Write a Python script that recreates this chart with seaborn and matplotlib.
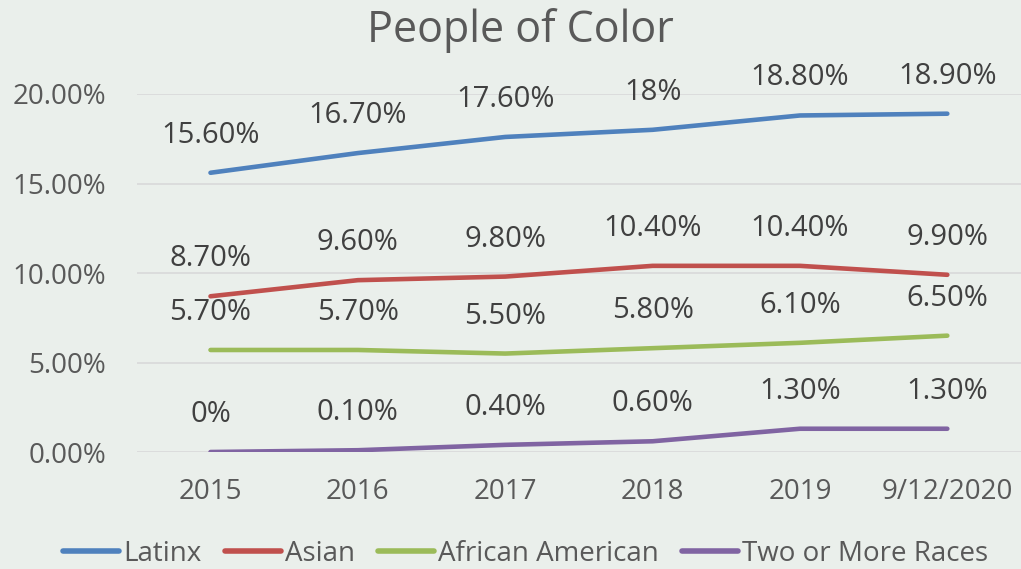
import matplotlib
matplotlib.use("Agg")
import matplotlib.pyplot as plt
import seaborn as sns
import pandas as pd
from matplotlib.ticker import FuncFormatter

years = ["2015", "2016", "2017", "2018", "2019", "9/12/2020"]
latinx = [15.6, 16.7, 17.6, 18.0, 18.8, 18.9]
asian = [8.7, 9.6, 9.8, 10.4, 10.4, 9.9]
african_american = [5.7, 5.7, 5.5, 5.8, 6.1, 6.5]
two_or_more = [0.0, 0.1, 0.4, 0.6, 1.3, 1.3]

series = {
    "Latinx": latinx,
    "Asian": asian,
    "African American": african_american,
    "Two or More Races": two_or_more,
}
colors = ["#4F81BD", "#C0504D", "#9BBB59", "#8064A2"]

rows = []
for name, vals in series.items():
    for yr, v in zip(years, vals):
        rows.append({"Year": yr, "Share": v, "Group": name})
df = pd.DataFrame(rows)

bg = "#EAEFEB"
sns.set_theme(style="white")
plt.rcParams["font.family"] = ["Open Sans", "DejaVu Sans"]

fig = plt.figure(figsize=(10.21, 5.69), dpi=100, facecolor=bg)
ax = fig.add_axes([0.134, 0.2056, 0.866, 0.6292])
ax.set_facecolor(bg)

sns.lineplot(data=df, x="Year", y="Share", hue="Group", palette=colors,
             sort=False, linewidth=3.3, ax=ax, legend=True)

def fmt_value(v):
    return f"{v:.0f}%" if float(v).is_integer() else f"{v:.2f}%"

for name, vals in series.items():
    for i, v in enumerate(vals):
        ax.annotate(fmt_value(v), (i, v), xytext=(0, 27), textcoords="offset points",
                    ha="center", va="center", fontsize=21, color="#404040",
                    annotation_clip=False)

ax.set_ylim(0, 20)
ax.set_xlim(-0.5, 5.5)
ax.set_yticks([0, 5, 10, 15, 20])
ax.yaxis.set_major_formatter(FuncFormatter(lambda v, p: f"{v:.2f}%"))
ax.grid(axis="y", color="#D9D9D9", linewidth=1.2)
ax.set_axisbelow(True)
for s in ax.spines.values():
    s.set_visible(False)
ax.tick_params(axis="y", length=0, pad=22, labelsize=20, labelcolor="#595959")
ax.tick_params(axis="x", length=0, pad=19, labelsize=20, labelcolor="#595959")
ax.set_xlabel("")
ax.set_ylabel("")

fig.text(0.51, 0.947, "People of Color", ha="center", va="center",
         fontsize=31, color="#595959")

handles, labels = ax.get_legend_handles_labels()
ax.get_legend().remove()
leg = fig.legend(handles, labels, loc="center", bbox_to_anchor=(0.515, 0.026),
                 ncol=4, frameon=False, handlelength=2.0, handletextpad=0.15,
                 columnspacing=0.85,
                 prop={"family": ["Open Sans", "DejaVu Sans"], "size": 20})
for t in leg.get_texts():
    t.set_color("#595959")
for h in leg.legend_handles:
    h.set_linewidth(4)

fig.savefig("out.png", dpi=100, facecolor=bg)
